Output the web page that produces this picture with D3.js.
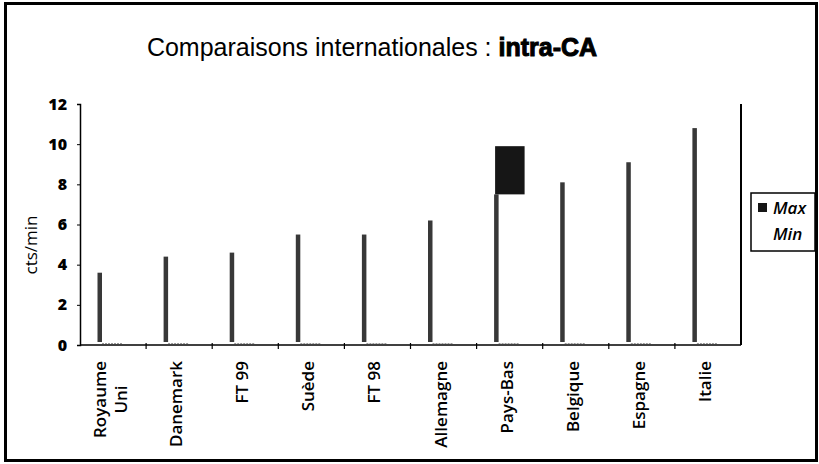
<!DOCTYPE html>
<html>
<head>
<meta charset="utf-8">
<script src="https://cdn.jsdelivr.net/npm/d3@7"></script>
<style>
  body { margin: 0; background: #fff; }
  svg { display: block; }
</style>
</head>
<body>
<div id="chart"></div>
<script>
// categories and values (cts/min)
const countries = [["Royaume", "Uni"], ["Danemark"], ["FT 99"], ["Suède"], ["FT 98"],
                   ["Allemagne"], ["Pays-Bas"], ["Belgique"], ["Espagne"], ["Italie"]];
const maxValues = [3.6, 4.4, 4.6, 5.5, 5.5, 6.2, 9.9, 8.1, 9.1, 10.8];
const minValues = [3.6, 4.4, 4.6, 5.5, 5.5, 6.2, 7.5, 8.1, 9.1, 10.8];
const yTicks = [0, 2, 4, 6, 8, 10, 12];
const legendItems = ["Max", "Min"];

const W = 819, H = 464;
const plotLeft = 80, plotRight = 741, plotTop = 104, plotBottom = 345;
const labelFont = '"Open Sans", sans-serif';

const svg = d3.select('#chart').append('svg')
  .attr('width', W).attr('height', H);

// outer frame
svg.append('rect')
  .attr('x', 5.5).attr('y', 3.5)
  .attr('width', 811).attr('height', 457)
  .attr('fill', 'none').attr('stroke', '#000').attr('stroke-width', 3);

// title
let title = svg.append('text')
  .attr('x', 372).attr('y', 56)
  .attr('text-anchor', 'middle')
  .style('font-family', '"Liberation Sans", Arial, sans-serif')
  .style('font-size', '25px');
title.append('tspan').text('Comparaisons internationales : ');
title.append('tspan')
  .style('font-weight', 700)
  .attr('stroke', '#000').attr('stroke-width', 1)
  .text('intra-CA');

let x = d3.scaleBand()
  .domain(countries.map(function(d) { return d.join(' '); }))
  .range([plotLeft, plotRight])
  .paddingInner(0).paddingOuter(0);

let y = d3.scaleLinear()
  .domain([0, 12])
  .range([plotBottom, plotTop]);

let g = svg.append('g');

// y axis
let yAxis = g.append('g')
  .attr('transform', 'translate(' + plotLeft + ',0)')
  .call(d3.axisLeft(y).tickValues(yTicks).tickSize(3).tickPadding(10));
yAxis.select('.domain').attr('stroke-width', 1.5);
yAxis.selectAll('text')
  .style('font-family', labelFont)
  .style('font-weight', 800)
  .style('font-size', '16px');

// right edge of plot
g.append('line')
  .attr('x1', plotRight).attr('x2', plotRight)
  .attr('y1', y(12)).attr('y2', y(0))
  .attr('stroke', '#000').attr('stroke-width', 2);

// x axis with ticks at category boundaries
let bounds = x.domain().map(function(d) { return x(d); }).concat([plotRight]);
g.append('line')
  .attr('x1', plotLeft).attr('x2', plotRight)
  .attr('y1', y(0)).attr('y2', y(0))
  .attr('stroke', '#000').attr('stroke-width', 1.5);
g.selectAll('.xtick')
  .data(bounds.slice(1, -1))
  .enter().append('line')
  .attr('class', 'xtick')
  .attr('x1', function(d) { return d; }).attr('x2', function(d) { return d; })
  .attr('y1', y(0) - 2).attr('y2', y(0) + 4)
  .attr('stroke', '#000').attr('stroke-width', 1.2);

// Min series: faint dotted trace along the baseline
g.selectAll('.minline')
  .data(countries)
  .enter().append('line')
  .attr('class', 'minline')
  .attr('x1', function(d) { return x(d.join(' ')) + 22; })
  .attr('x2', function(d) { return x(d.join(' ')) + 42; })
  .attr('y1', y(0) - 1.5).attr('y2', y(0) - 1.5)
  .attr('stroke', '#999').attr('stroke-width', 1)
  .attr('stroke-dasharray', '2,1');

// thin bars from 0 to min
g.selectAll('.bar')
  .data(countries)
  .enter().append('rect')
  .attr('class', 'bar')
  .attr('x', function(d) { return x(d.join(' ')) + 17.5; })
  .attr('y', function(d, i) { return y(minValues[i]); })
  .attr('width', 4.5)
  .attr('height', function(d, i) { return y(0) - y(minValues[i]) - 3; })
  .attr('fill', '#383838');

// Max box between min and max
g.selectAll('.maxbox')
  .data(countries)
  .enter().append('rect')
  .attr('class', 'maxbox')
  .attr('x', function(d) { return x(d.join(' ')) + 18.5; })
  .attr('y', function(d, i) { return y(maxValues[i]); })
  .attr('width', 29.5)
  .attr('height', function(d, i) { return Math.max(0, y(minValues[i]) - y(maxValues[i])); })
  .attr('fill', '#161616');

// category labels, rotated; extra lines centred under the first
let lineGap = 21;
let labels = g.selectAll('.xlab')
  .data(countries)
  .enter().append('text')
  .attr('class', 'xlab')
  .attr('transform', function(d) {
    let cx = x(d.join(' ')) + x.bandwidth() / 2 - 3;
    return 'translate(' + cx + ',' + 361 + ') rotate(-90)';
  })
  .style('font-family', labelFont)
  .style('font-weight', 600)
  .style('font-size', '17px');
labels.each(function(d) {
  let t = d3.select(this);
  let n = d.length;
  let first = t.append('tspan')
    .attr('x', 0)
    .attr('y', (0 - (n - 1) / 2) * lineGap)
    .attr('dy', '0.35em')
    .attr('text-anchor', 'end')
    .text(d[0]);
  let w = first.node().getComputedTextLength();
  d.slice(1).forEach(function(line, k) {
    t.append('tspan')
      .attr('x', -w / 2)
      .attr('y', (k + 1 - (n - 1) / 2) * lineGap)
      .attr('dy', '0.35em')
      .attr('text-anchor', 'middle')
      .text(line);
  });
});

// y axis label
svg.append('text')
  .attr('transform', 'translate(31,245) rotate(-90)')
  .attr('text-anchor', 'middle')
  .attr('dy', '0.35em')
  .style('font-family', labelFont)
  .style('font-size', '17px')
  .text('cts/min');

// legend
let legend = svg.append('g');
legend.append('rect')
  .attr('x', 751).attr('y', 193)
  .attr('width', 64).attr('height', 58)
  .attr('fill', '#fff').attr('stroke', '#000').attr('stroke-width', 1.5);
legend.append('rect')
  .attr('x', 758).attr('y', 203)
  .attr('width', 9).attr('height', 9)
  .attr('fill', '#161616');
legend.selectAll('.legtext')
  .data(legendItems)
  .enter().append('text')
  .attr('class', 'legtext')
  .attr('x', 773)
  .attr('y', function(d, i) { return 214 + i * 26; })
  .style('font-family', labelFont)
  .style('font-style', 'italic')
  .style('font-weight', 600)
  .style('font-size', '17px')
  .text(function(d) { return d; });
</script>
</body>
</html>
